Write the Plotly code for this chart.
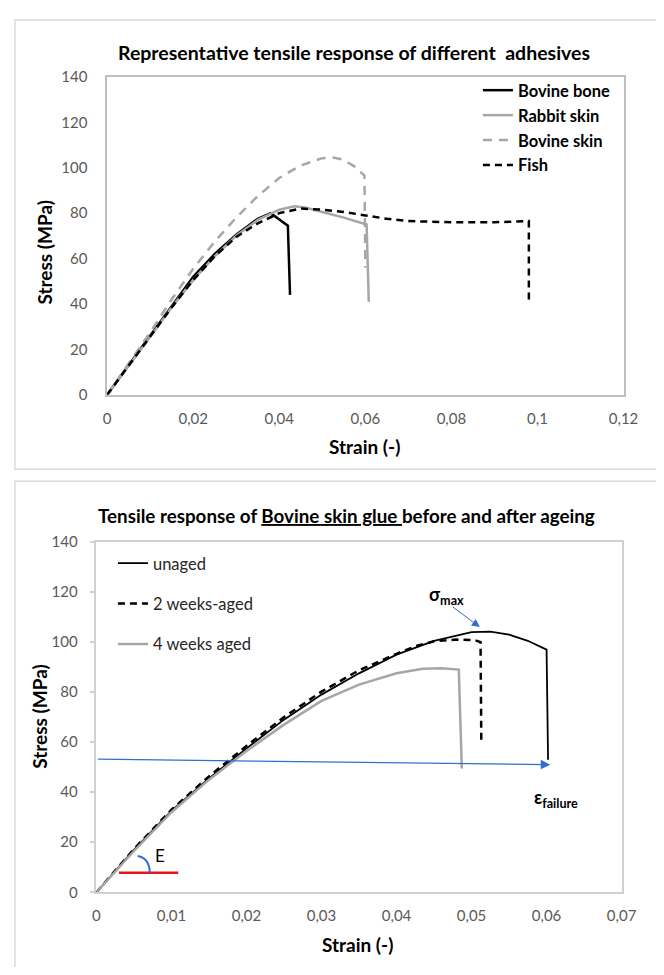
import plotly.graph_objects as go

# ---------------- data: top chart (different adhesives) ----------------
bone_strain = [0, 0.005, 0.01, 0.015, 0.02, 0.025, 0.03, 0.035, 0.038, 0.042, 0.0425]
bone_stress = [0, 13, 26, 39.5, 52, 62, 70.5, 77.5, 80, 74.5, 44]

rabbit_strain = [0, 0.005, 0.01, 0.015, 0.02, 0.025, 0.03, 0.035, 0.04, 0.0435, 0.046, 0.05, 0.055, 0.0603, 0.0608]
rabbit_stress = [0, 12.5, 25.5, 38.5, 50.5, 61, 70, 77, 81.5, 83, 82.5, 80.5, 78, 75, 41]

bskin_strain = [0, 0.005, 0.01, 0.015, 0.02, 0.025, 0.03, 0.035, 0.04, 0.045, 0.05, 0.0525, 0.055, 0.0575, 0.0598, 0.06]
bskin_stress = [0, 13.5, 27.5, 42, 55.5, 67.5, 78, 87.5, 95.5, 101, 104.2, 104.5, 103.5, 100.5, 96.5, 56]

fish_strain = [0, 0.005, 0.01, 0.015, 0.02, 0.025, 0.03, 0.035, 0.04, 0.045, 0.05, 0.055, 0.06, 0.065, 0.07, 0.08, 0.09, 0.098, 0.098]
fish_stress = [0, 13, 26, 38.5, 50.5, 61, 69.5, 75.5, 80, 82, 81.5, 80.5, 79, 77.5, 76.5, 76, 76, 76.5, 42]

# ---------------- data: bottom chart (bovine skin glue ageing) ----------------
unaged_strain = [0, 0.005, 0.01, 0.015, 0.02, 0.025, 0.03, 0.035, 0.04, 0.045, 0.05, 0.0525, 0.055, 0.0575, 0.06, 0.0602]
unaged_stress = [0, 17, 32.5, 45.5, 57.5, 69, 79, 87.5, 95, 100.5, 104, 104.2, 103, 100.5, 97, 53]

w2_strain = [0, 0.005, 0.01, 0.015, 0.02, 0.025, 0.03, 0.035, 0.04, 0.0425, 0.045, 0.048, 0.0505, 0.0512, 0.0513]
w2_stress = [0, 17.3, 33, 46.3, 58.5, 70, 80.2, 88.7, 95.3, 98.3, 100.3, 101, 100.7, 100, 60]

w4_strain = [0, 0.005, 0.01, 0.015, 0.02, 0.025, 0.03, 0.035, 0.04, 0.0435, 0.046, 0.0483, 0.0487]
w4_stress = [0, 16.5, 32, 45, 56.5, 67, 76.5, 83, 87.5, 89.3, 89.5, 89, 49.5]

top_xticks = [0, 0.02, 0.04, 0.06, 0.08, 0.1, 0.12]
bot_xticks = [0, 0.01, 0.02, 0.03, 0.04, 0.05, 0.06, 0.07]
yticks = [0, 20, 40, 60, 80, 100, 120, 140]

FONT = "Lato"
PAGE_MARGIN = 8          # default body margin of the html page
W, H = 664 - 2 * PAGE_MARGIN, 975 - 2 * PAGE_MARGIN


def px(x):
    """page pixel (from left) -> paper x"""
    return (x - PAGE_MARGIN) / W


def py(y):
    """page pixel (from top) -> paper y"""
    return 1 - (y - PAGE_MARGIN) / H


fig = go.Figure()

# top traces
fig.add_trace(go.Scatter(x=bone_strain, y=bone_stress, mode="lines", name="Bovine bone",
                         line=dict(color="#000000", width=2.5), xaxis="x", yaxis="y",
                         legend="legend", legendgroup="a"))
fig.add_trace(go.Scatter(x=rabbit_strain, y=rabbit_stress, mode="lines", name="Rabbit skin",
                         line=dict(color="#A6A6A6", width=2.5), xaxis="x", yaxis="y",
                         legend="legend", legendgroup="b"))
fig.add_trace(go.Scatter(x=bskin_strain, y=bskin_stress, mode="lines", name="Bovine skin",
                         line=dict(color="#A6A6A6", width=2.5, dash="9px,7px"), xaxis="x", yaxis="y",
                         legend="legend", legendgroup="c"))
fig.add_trace(go.Scatter(x=fish_strain, y=fish_stress, mode="lines", name="Fish",
                         line=dict(color="#000000", width=2.5, dash="7px,5px"), xaxis="x", yaxis="y",
                         legend="legend", legendgroup="d"))

# bottom traces
fig.add_trace(go.Scatter(x=unaged_strain, y=unaged_stress, mode="lines", name="unaged",
                         line=dict(color="#000000", width=1.8), xaxis="x2", yaxis="y2",
                         legend="legend2", legendgroup="e"))
fig.add_trace(go.Scatter(x=w2_strain, y=w2_stress, mode="lines", name="2 weeks-aged",
                         line=dict(color="#000000", width=2.5, dash="7px,5px"), xaxis="x2", yaxis="y2",
                         legend="legend2", legendgroup="f"))
fig.add_trace(go.Scatter(x=w4_strain, y=w4_stress, mode="lines", name="4 weeks aged",
                         line=dict(color="#A6A6A6", width=2.5), xaxis="x2", yaxis="y2",
                         legend="legend2", legendgroup="g"))

tickfont = dict(family=FONT, size=15, color="#595959")

fig.update_layout(
    width=W, height=H,
    margin=dict(l=0, r=0, t=0, b=0),
    paper_bgcolor="white", plot_bgcolor="white",
    separators=", ",
    font=dict(family=FONT, color="#000000"),
    xaxis=dict(domain=[px(106), px(638)], range=[0, 0.12], tickvals=top_xticks,
               showgrid=False, zeroline=False, showline=True, mirror=True,
               linecolor="#BFBFBF", linewidth=1.5, ticks="", tickfont=tickfont,
               ticklabelstandoff=9, anchor="y"),
    yaxis=dict(domain=[py(392), py(68)], range=[0, 140], tickvals=yticks,
               showgrid=False, zeroline=False, showline=True, mirror=True,
               linecolor="#BFBFBF", linewidth=1.5, ticks="", tickfont=tickfont,
               ticklabelstandoff=15, anchor="x"),
    xaxis2=dict(domain=[px(95), px(636)], range=[0, 0.07], tickvals=bot_xticks,
                showgrid=False, zeroline=False, showline=True, mirror=True,
                linecolor="#D0D0D0", linewidth=1.5, ticks="", tickfont=tickfont,
                ticklabelstandoff=9, anchor="y2"),
    yaxis2=dict(domain=[py(899), py(542)], range=[0, 140], tickvals=yticks,
                showgrid=False, zeroline=False, showline=True, mirror=True,
                linecolor="#D0D0D0", linewidth=1.5, ticks="outside", ticklen=5,
                tickcolor="#D0D0D0", tickwidth=1.5, tickfont=tickfont,
                ticklabelstandoff=9, anchor="x2"),
    legend=dict(x=px(488), y=py(64), xanchor="left", yanchor="top",
                bgcolor="rgba(0,0,0,0)", tracegroupgap=0.5,
                font=dict(family=FONT, size=16.5, color="#000000", weight="bold")),
    legend2=dict(x=px(112), y=py(546), xanchor="left", yanchor="top",
                 bgcolor="rgba(0,0,0,0)", tracegroupgap=16,
                 font=dict(family=FONT, size=16.5, color="#262626")),
    showlegend=True,
)

shapes = [
    # panel frames
    dict(type="rect", xref="paper", yref="paper", x0=px(11), x1=1.05, y0=py(468), y1=py(10),
         line=dict(color="#D9D9D9", width=1.5), layer="below"),
    dict(type="rect", xref="paper", yref="paper", x0=px(11), x1=1.05, y0=-0.05, y1=py(480),
         line=dict(color="#D9D9D9", width=1.5), layer="below"),
    # red horizontal line for modulus E
    dict(type="line", xref="x2", yref="y2", x0=0.003, x1=0.0109, y0=7.8, y1=7.8,
         line=dict(color="#E8141B", width=2.5)),
    # blue arc for modulus E
    dict(type="path", xref="x2", yref="y2", path="M 0.0055,14.5 Q 0.0071,13.5 0.0071,7.8",
         line=dict(color="#2F6FD0", width=2)),
]
fig.update_layout(shapes=shapes)

C = dict(xanchor="center", yanchor="middle", showarrow=False)
annotations = [
    dict(text="<b>Representative tensile response of different\u00a0 adhesives</b>", x=px(360), y=py(43),
         xref="paper", yref="paper", font=dict(family=FONT, size=19.5, color="#000000"), **C),
    dict(text="<b>Strain (-)</b>", x=px(371), y=py(445), xref="paper", yref="paper",
         font=dict(family=FONT, size=19, color="#000000"), **C),
    dict(text="<b>Stress (MPa)</b>", x=px(42), y=py(247), xref="paper", yref="paper",
         textangle=-90, font=dict(family=FONT, size=19, color="#000000"), **C),
    dict(text="<b>Tensile response of <u>Bovine skin glue </u>before and after ageing</b>", x=px(353), y=py(515),
         xref="paper", yref="paper", font=dict(family=FONT, size=18.8, color="#000000"), **C),
    dict(text="<b>Strain (-)</b>", x=px(364), y=py(952), xref="paper", yref="paper",
         font=dict(family=FONT, size=19, color="#000000"), **C),
    dict(text="<b>Stress (MPa)</b>", x=px(36), y=py(720), xref="paper", yref="paper",
         textangle=-90, font=dict(family=FONT, size=19, color="#000000"), **C),
    # failure strain arrow
    dict(x=0.0605, y=51, ax=0, ay=53.2, xref="x2", yref="y2", axref="x2", ayref="y2",
         showarrow=True, arrowhead=2, arrowsize=1.6, arrowwidth=1.2, arrowcolor="#2F6FD0", text=""),
    # sigma max arrow
    dict(x=0.0511, y=106, ax=0.0473, ay=114.5, xref="x2", yref="y2", axref="x2", ayref="y2",
         showarrow=True, arrowhead=2, arrowsize=1.6, arrowwidth=1, arrowcolor="#2F6FD0", text=""),
    dict(text="<b>σ<sub>max</sub></b>", x=0.0467, y=118.5, xref="x2", yref="y2",
         font=dict(family=FONT, size=18, color="#000000"), **C),
    dict(text="<b>ε<sub>failure</sub></b>", x=0.0612, y=37.5, xref="x2", yref="y2",
         font=dict(family=FONT, size=18, color="#000000"), **C),
    dict(text="E", x=0.0085, y=14.5, xref="x2", yref="y2",
         font=dict(family=FONT, size=17, color="#000000"), **C),
]
fig.update_layout(annotations=annotations)

fig.write_html("out.html")
